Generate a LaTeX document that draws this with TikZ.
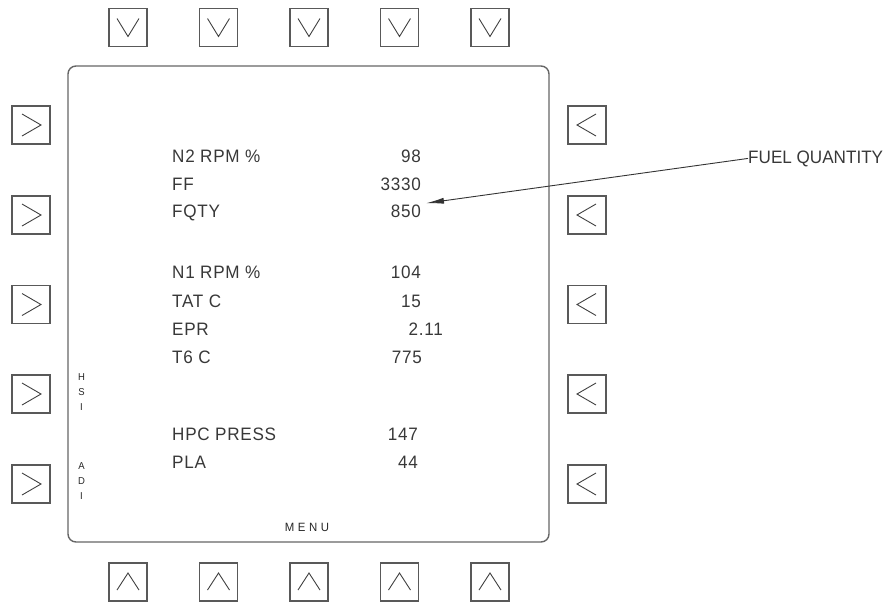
\documentclass[tikz,border=0pt]{standalone}
\usepackage{fontspec}
\setmainfont{Liberation Sans}[FakeStretch=0.95]
\usetikzlibrary{arrows.meta}
\begin{document}
\begin{tikzpicture}[x=1pt,y=-1pt,
  screen/.style={draw=black!60,line width=1.4pt,rounded corners=8pt,minimum width=481pt,minimum height=476pt,inner sep=0pt},
  btn/.style={draw=black!65,line width=1.2pt,minimum width=38pt,minimum height=38pt,inner sep=0pt},
  chev/.style={draw=black!75,line width=0.9pt},
  lbl/.style={anchor=base west,inner sep=0pt,text=black!78,font=\fontsize{18}{18}\selectfont\addfontfeature{LetterSpace=4}},
  val/.style={lbl,anchor=base east},
  calltxt/.style={anchor=base west,inner sep=0pt,text=black!78,font=\fontsize{18}{18}\selectfont},
  sidetxt/.style={inner sep=0pt,align=center,text=black!85,font=\fontsize{10}{15}\selectfont},
  menutxt/.style={inner sep=0pt,text=black!85,font=\fontsize{12}{12}\selectfont\addfontfeature{LetterSpace=30}},
  leader/.style={draw=black!80,line width=0.9pt,-{Latex[length=18pt,width=6pt]}}
]
\useasboundingbox (0,0) rectangle (896,606);
\node[screen] (scr) at (308.5,304) {};
% top and bottom buttons
\foreach \i/\x in {1/128,2/218.5,3/309,4/399.5,5/490}{
  \node[btn] (t\i) at (\x,27.5) {};
  \draw[chev] ([shift={(-11,-9)}]t\i.center) -- ([shift={(0,9)}]t\i.center) -- ([shift={(11,-9)}]t\i.center);
  \node[btn] (b\i) at (\x,582) {};
  \draw[chev] ([shift={(-11,8)}]b\i.center) -- ([shift={(0,-9)}]b\i.center) -- ([shift={(11,8)}]b\i.center);
}
% left and right buttons
\foreach \i/\y in {1/125,2/215,3/304.5,4/394,5/484}{
  \node[btn] (l\i) at (31,\y) {};
  \draw[chev] ([shift={(-9,-11)}]l\i.center) -- ([shift={(10,0)}]l\i.center) -- ([shift={(-9,11)}]l\i.center);
  \node[btn] (r\i) at (587,\y) {};
  \draw[chev] ([shift={(9,-11)}]r\i.center) -- ([shift={(-10,0)}]r\i.center) -- ([shift={(9,11)}]r\i.center);
}
% labels
\node[lbl] (n2) at (172,162) {N2 RPM \%};
\node[lbl] (ff) at (172,190) {FF};
\node[lbl] (fqty) at (172,217) {FQTY};
\node[lbl] (n1) at (172,278) {N1 RPM \%};
\node[lbl] (tat) at (172,307) {TAT C};
\node[lbl] (epr) at (172,335) {EPR};
\node[lbl] (t6) at (172,363) {T6 C};
\node[lbl] (hpc) at (172,440) {HPC PRESS};
\node[lbl] (pla) at (172,468) {PLA};
% values
\node[val] (v98) at (421,162) {98};
\node[val] (v3330) at (421,190) {3330};
\node[val] (v850) at (421,217) {850};
\node[val] (v104) at (421,278) {104};
\node[val] (v15) at (421,307) {15};
\node[val] (v211) at (443,335) {2.11};
\node[val] (v775) at (422,363) {775};
\node[val] (v147) at (418,440) {147};
\node[val] (v44) at (418,468) {44};
% side texts
\node[sidetxt] (hsi) at (81.5,392) {H\\S\\I};
\node[sidetxt] (adi) at (81.5,481) {A\\D\\I};
\node[menutxt] (menu) at (307,527) {MENU};
% callout
\node[calltxt] (fq) at (748,163) {FUEL QUANTITY};
\draw[leader] (fq.west) -- ([shift={(5,-1)}]v850.north east);
\end{tikzpicture}
\end{document}
